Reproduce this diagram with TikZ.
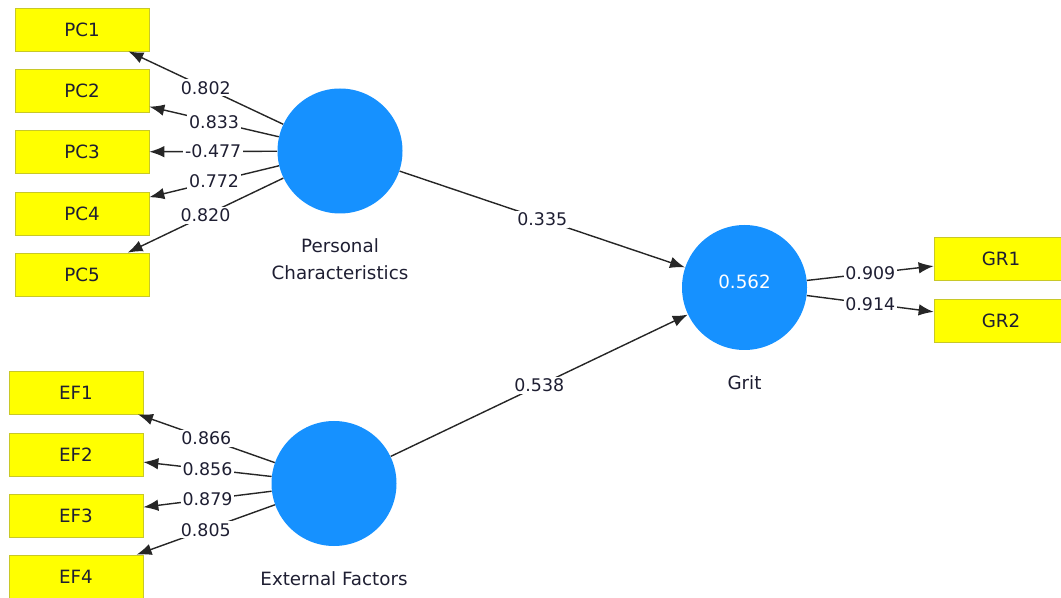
\documentclass[tikz,border=0pt]{standalone}
\usepackage{fontspec}
\setmainfont{DejaVu Sans}
\usepackage{tikz}
\usetikzlibrary{positioning,arrows.meta}
\usepackage{xcolor}
\definecolor{itemfill}{RGB}{255,255,0}
\definecolor{itemline}{RGB}{200,200,40}
\definecolor{lvblue}{RGB}{22,145,255}
\definecolor{txtdark}{RGB}{30,30,50}

\begin{document}
\begin{tikzpicture}[
    font=\fontsize{10.4pt}{15.3pt}\selectfont,
    item/.style={draw=itemline, fill=itemfill, minimum width=2.68cm, minimum height=0.86cm, text=txtdark, inner sep=0pt},
    latent/.style={circle, fill=lvblue, minimum size=2.5cm, inner sep=0pt},
    caption/.style={align=center, text=txtdark, inner sep=0pt},
    arrow/.style={-{Latex[length=3mm,width=2.3mm]}, draw=black!85, line width=0.8pt},
    lbl/.style={fill=white, text=txtdark, inner sep=1pt, pos=0.5, font=\fontsize{9.9pt}{12pt}\selectfont}
]
\useasboundingbox (0,0) rectangle (21.22,-11.96);
% latent variables
\node[latent] (pc) at (6.8,-3.02) {};
\node[latent] (ef) at (6.68,-9.67) {};
\node[latent] (grit) at (14.89,-5.75) {};
\node[text=white, inner sep=0pt] (gritr2) at ([yshift=0.12cm]grit.center) {0.562};
\node[caption, below=0.49cm of pc] (pccap) {Personal\\Characteristics};
\node[caption, below=0.49cm of ef] (efcap) {External Factors};
\node[caption, below=0.49cm of grit] (gritcap) {Grit};
% indicators
\node[item] (pc1) at (1.64,-0.59) {PC1};
\node[item] (pc2) at (1.64,-1.82) {PC2};
\node[item] (pc3) at (1.64,-3.04) {PC3};
\node[item] (pc4) at (1.64,-4.27) {PC4};
\node[item] (pc5) at (1.64,-5.49) {PC5};
\node[item] (ef1) at (1.52,-7.85) {EF1};
\node[item] (ef2) at (1.52,-9.09) {EF2};
\node[item] (ef3) at (1.52,-10.31) {EF3};
\node[item] (ef4) at (1.52,-11.53) {EF4};
\node[item] (gr1) at (20.02,-5.17) {GR1};
\node[item] (gr2) at (20.02,-6.41) {GR2};
% loadings
\draw[arrow] (pc) -- node[lbl] {0.802} (pc1);
\draw[arrow] (pc) -- node[lbl] {0.833} (pc2);
\draw[arrow] (pc) -- node[lbl] {-0.477} (pc3);
\draw[arrow] (pc) -- node[lbl] {0.772} (pc4);
\draw[arrow] (pc) -- node[lbl] {0.820} (pc5);
\draw[arrow] (ef) -- node[lbl] {0.866} (ef1);
\draw[arrow] (ef) -- node[lbl] {0.856} (ef2);
\draw[arrow] (ef) -- node[lbl] {0.879} (ef3);
\draw[arrow] (ef) -- node[lbl] {0.805} (ef4);
\draw[arrow] (grit) -- node[lbl] {0.909} (gr1);
\draw[arrow] (grit) -- node[lbl] {0.914} (gr2);
% paths
\draw[arrow] (pc) -- node[lbl] {0.335} (grit);
\draw[arrow] (ef) -- node[lbl] {0.538} (grit);
\end{tikzpicture}
\end{document}
